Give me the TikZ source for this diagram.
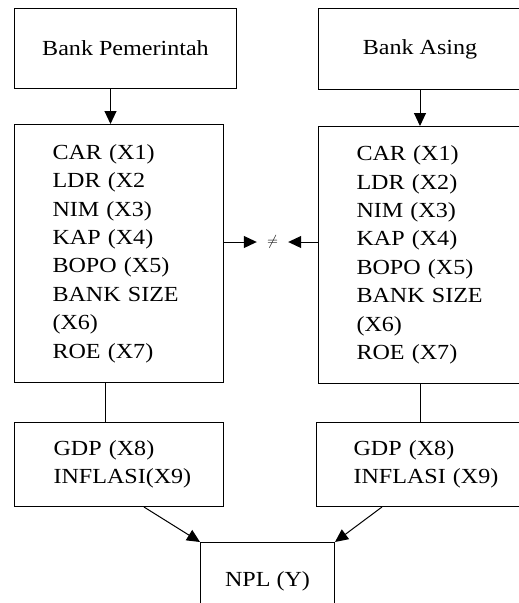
\documentclass[tikz,border=0pt]{standalone}
\usepackage{fontspec}
\setmainfont{Liberation Serif}[FakeStretch=1.12]
\usetikzlibrary{positioning,arrows.meta,calc}

\begin{document}
\begin{tikzpicture}[x=1pt,y=-1pt,
    font=\fontsize{21.5}{28.4}\selectfont,
    box/.style={draw, line width=1pt, inner sep=0pt, anchor=north west},
    varbox/.style={box, align=left, inner xsep=38pt},
    link/.style={line width=1pt},
    arr/.style={link, -{Triangle[length=13pt,width=12pt]}}]
  \useasboundingbox (0,0) rectangle (519,603);
  \clip (0,0) rectangle (519,603);

  % kelompok bank
  \node[box, minimum width=222, minimum height=80] (pem) at (14,8) {Bank Pemerintah};
  \node[box, minimum width=203, minimum height=81] (asing) at (318,8) {Bank Asing};

  % variabel internal
  \node[varbox, text width=133, minimum height=258] (pemvar) at (14,124)
    {CAR (X1)\\ LDR (X2\\ NIM (X3)\\ KAP (X4)\\ BOPO (X5)\\ BANK SIZE\\ (X6)\\ ROE (X7)};
  \node[varbox, text width=140, minimum height=257] (asvar) at (318,126)
    {CAR (X1)\\ LDR (X2)\\ NIM (X3)\\ KAP (X4)\\ BOPO (X5)\\ BANK SIZE\\ (X6)\\ ROE (X7)};
  \node[inner sep=0pt, minimum width=31, font=\fontsize{15}{15}\selectfont] (neq) at (272.5,242) {$\neq$};

  % variabel makro
  \node[varbox, inner xsep=39pt, text width=131, minimum height=84] (pemgdp) at (14,422)
    {GDP (X8)\\ INFLASI(X9)};
  \node[varbox, inner xsep=37pt, text width=160, minimum height=84] (asgdp) at (316,422)
    {GDP (X8)\\ INFLASI (X9)};

  \node[box, minimum width=134, minimum height=78] (npl) at (200,542) {NPL (Y)};

  % panah
  \draw[arr] ([xshift=-15]pem.south) -- ([xshift=-15]pem.south |- pemvar.north);
  \draw[arr] (asing.south) -- (asing.south |- asvar.north);
  \draw[arr] (pemvar.east |- neq) -- (neq.west);
  \draw[arr] (asvar.west |- neq) -- (neq.east);
  \draw[link] ([xshift=-13.5]pemvar.south) -- ([xshift=-13.5]pemvar.south |- pemgdp.north);
  \draw[link] (asvar.south -| asing.south) -- (asgdp.north -| asing.south);
  \draw[arr] ([xshift=-80]pemgdp.south east) -- (npl.north west);
  \draw[arr] ([xshift=66]asgdp.south west) -- (npl.north east);
\end{tikzpicture}
\end{document}
